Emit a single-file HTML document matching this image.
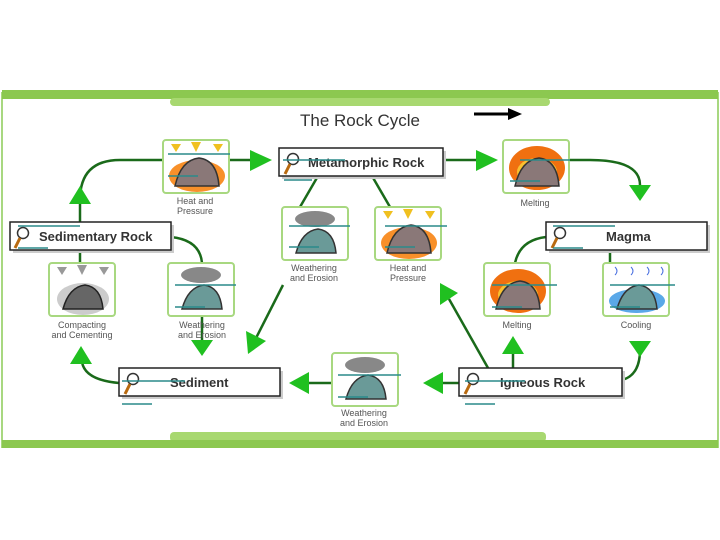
<!DOCTYPE html>
<html><head><meta charset="utf-8"><style>
html,body{margin:0;padding:0;background:#fff;}
svg{display:block;}
text{font-family:"Liberation Sans",sans-serif;}
.lab{font-size:9px;fill:#555;text-anchor:middle;}
.bx{font-size:13px;font-weight:bold;fill:#333;}
</style></head><body>
<svg width="720" height="540" viewBox="0 0 720 540">
<defs>
<g id="mag">
<circle cx="9" cy="-5" r="5.5" fill="#fff" stroke="#333" stroke-width="1.5"/>
<line x1="6" y1="0" x2="1" y2="10" stroke="#b86a10" stroke-width="3"/>
</g>
<g id="tile"><rect x="0" y="0" width="66" height="53" rx="3" fill="#fff" stroke="#a8d880" stroke-width="2"/></g>
<g id="rock"><path d="M12 46 Q18 20 36 18 Q54 20 56 46 Z" fill="#8a7878" stroke="#333" stroke-width="1.5"/></g>
<g id="grock"><path d="M14 46 Q20 24 36 22 Q52 24 54 46 Z" fill="#6a9a98" stroke="#333" stroke-width="1.5"/></g>
<g id="cloud"><ellipse cx="33" cy="12" rx="20" ry="8" fill="#888"/></g>
</defs>
<rect x="2" y="93" width="716" height="354" fill="#fff" stroke="#a8d880" stroke-width="2"/>
<rect x="2" y="90" width="716" height="9" fill="#8cc850"/>
<rect x="170" y="98" width="380" height="8" rx="4" fill="#a8d870"/>
<rect x="170" y="432" width="376" height="10" rx="4" fill="#a8d870"/>
<rect x="2" y="440" width="716" height="8" fill="#8cc850"/>
<text x="300" y="126" font-size="17" fill="#333">The Rock Cycle</text>
<line x1="474" y1="114" x2="510" y2="114" stroke="#000" stroke-width="3"/>
<polygon points="508,108 522,114 508,120" fill="#000"/>

<g stroke="#1a6a1a" stroke-width="2.5" fill="none">
<path d="M80 222 L80 200 Q80 160 120 160 L162 160"/>
<path d="M229 160 L262 160"/>
<path d="M443 160 L476 160"/>
<path d="M570 160 L590 160 Q640 160 640 185"/>
<path d="M610 250 L610 263"/>
<path d="M546 237 Q520 240 515 263"/>
<path d="M171 237 Q200 240 202 263"/>
<path d="M80 263 L80 250"/>
<path d="M318 176 L300 207"/>
<path d="M372 176 L390 207"/>
<path d="M283 285 L255 340"/>
<path d="M488 368 L449 299"/>
<path d="M513 368 L513 352"/>
<path d="M622 380 Q640 375 640 350"/>
<path d="M459 383 L440 383"/>
<path d="M332 383 L305 383"/>
<path d="M119 383 Q85 380 82 362"/>
<path d="M202 316 L202 340"/>
</g>
<g fill="#20c020">
<polygon points="80,186 69,204 91,204"/>
<polygon points="250,150 272,160 250,171"/>
<polygon points="476,150 498,160 476,171"/>
<polygon points="629,185 651,185 640,201"/>
<polygon points="629,341 651,341 640,357"/>
<polygon points="502,354 524,354 513,336"/>
<polygon points="440,283 458,293 440,305"/>
<polygon points="423,383 443,372 443,394"/>
<polygon points="289,383 309,372 309,394"/>
<polygon points="70,364 92,364 81,346"/>
<polygon points="191,340 213,340 202,356"/>
<polygon points="248,354 266,341 246,331"/>
</g>

<g>
<rect x="282" y="151" width="164" height="28" fill="#ccc"/>
<rect x="279" y="148" width="164" height="28" fill="#fff" stroke="#222" stroke-width="1.5"/>
<use href="#mag" x="284" y="164"/>
<text class="bx" x="308" y="167">Metamorphic Rock</text>
<line x1="284" y1="180" x2="312" y2="180" stroke="#2a8a8a" stroke-width="1.5"/>
<line x1="283" y1="160" x2="345" y2="160" stroke="#2a8a8a" stroke-width="1.5"/>

<rect x="13" y="225" width="161" height="28" fill="#ccc"/>
<rect x="10" y="222" width="161" height="28" fill="#fff" stroke="#222" stroke-width="1.5"/>
<use href="#mag" x="14" y="238"/>
<text class="bx" x="39" y="241">Sedimentary Rock</text>
<line x1="18" y1="226" x2="80" y2="226" stroke="#2a8a8a" stroke-width="1.5"/>
<line x1="18" y1="248" x2="48" y2="248" stroke="#2a8a8a" stroke-width="1.5"/>

<rect x="549" y="225" width="161" height="28" fill="#ccc"/>
<rect x="546" y="222" width="161" height="28" fill="#fff" stroke="#222" stroke-width="1.5"/>
<use href="#mag" x="551" y="238"/>
<text class="bx" x="606" y="241">Magma</text>
<line x1="553" y1="226" x2="615" y2="226" stroke="#2a8a8a" stroke-width="1.5"/>
<line x1="553" y1="248" x2="583" y2="248" stroke="#2a8a8a" stroke-width="1.5"/>

<rect x="122" y="371" width="161" height="28" fill="#ccc"/>
<rect x="119" y="368" width="161" height="28" fill="#fff" stroke="#222" stroke-width="1.5"/>
<use href="#mag" x="124" y="384"/>
<text class="bx" x="170" y="387">Sediment</text>
<line x1="122" y1="381" x2="185" y2="381" stroke="#2a8a8a" stroke-width="1.5"/>
<line x1="122" y1="404" x2="152" y2="404" stroke="#2a8a8a" stroke-width="1.5"/>

<rect x="462" y="371" width="163" height="28" fill="#ccc"/>
<rect x="459" y="368" width="163" height="28" fill="#fff" stroke="#222" stroke-width="1.5"/>
<use href="#mag" x="464" y="384"/>
<text class="bx" x="500" y="387">Igneous Rock</text>
<line x1="465" y1="381" x2="525" y2="381" stroke="#2a8a8a" stroke-width="1.5"/>
<line x1="465" y1="404" x2="495" y2="404" stroke="#2a8a8a" stroke-width="1.5"/>
</g>

<g transform="translate(163,140)"><use href="#tile"/><ellipse cx="34" cy="36" rx="28" ry="16" fill="#f8902a"/><use href="#rock"/><polygon points="8,4 18,4 13,12" fill="#f0c020"/><polygon points="28,2 38,2 33,12" fill="#f0c020"/><polygon points="50,4 60,4 55,12" fill="#f0c020"/></g>
<text class="lab" x="195" y="204">Heat and</text><text class="lab" x="195" y="214">Pressure</text>
<g transform="translate(503,140)"><use href="#tile"/><ellipse cx="34" cy="28" rx="28" ry="22" fill="#f07010"/><ellipse cx="34" cy="32" rx="20" ry="14" fill="#f8c030"/><use href="#rock"/></g>
<text class="lab" x="535" y="206">Melting</text>
<g transform="translate(282,207)"><use href="#tile"/><use href="#cloud"/><use href="#grock"/></g>
<text class="lab" x="314" y="271">Weathering</text><text class="lab" x="314" y="281">and Erosion</text>
<g transform="translate(375,207)"><use href="#tile"/><ellipse cx="34" cy="36" rx="28" ry="16" fill="#f8902a"/><use href="#rock"/><polygon points="8,4 18,4 13,12" fill="#f0c020"/><polygon points="28,2 38,2 33,12" fill="#f0c020"/><polygon points="50,4 60,4 55,12" fill="#f0c020"/></g>
<text class="lab" x="408" y="271">Heat and</text><text class="lab" x="408" y="281">Pressure</text>
<g transform="translate(49,263)"><use href="#tile"/><ellipse cx="34" cy="36" rx="26" ry="16" fill="#ccc"/><path d="M14 46 Q20 24 36 22 Q52 24 54 46 Z" fill="#666" stroke="#222" stroke-width="1.5"/><polygon points="8,4 18,4 13,12" fill="#999"/><polygon points="28,2 38,2 33,12" fill="#999"/><polygon points="50,4 60,4 55,12" fill="#999"/></g>
<text class="lab" x="82" y="328">Compacting</text><text class="lab" x="82" y="338">and Cementing</text>
<g transform="translate(168,263)"><use href="#tile"/><use href="#cloud"/><use href="#grock"/></g>
<text class="lab" x="202" y="328">Weathering</text><text class="lab" x="202" y="338">and Erosion</text>
<g transform="translate(484,263)"><use href="#tile"/><ellipse cx="34" cy="28" rx="28" ry="22" fill="#f07010"/><ellipse cx="34" cy="32" rx="20" ry="14" fill="#f8c030"/><use href="#rock"/></g>
<text class="lab" x="517" y="328">Melting</text>
<g transform="translate(603,263)"><use href="#tile"/><ellipse cx="34" cy="38" rx="28" ry="12" fill="#5aa8e8"/><use href="#grock"/><path d="M12 4 q4 4 0 8 M28 4 q4 4 0 8 M44 4 q4 4 0 8 M58 4 q4 4 0 8" stroke="#4a70e0" fill="none"/></g>
<text class="lab" x="636" y="328">Cooling</text>
<g transform="translate(332,353)"><use href="#tile"/><use href="#cloud"/><use href="#grock"/></g>
<text class="lab" x="364" y="416">Weathering</text><text class="lab" x="364" y="426">and Erosion</text>

<g stroke="#2a8a8a" stroke-width="1.5">
<line x1="168" y1="154" x2="230" y2="154"/><line x1="168" y1="176" x2="198" y2="176"/>
<line x1="520" y1="160" x2="570" y2="160"/><line x1="510" y1="181" x2="540" y2="181"/>
<line x1="289" y1="226" x2="350" y2="226"/><line x1="289" y1="247" x2="319" y2="247"/>
<line x1="385" y1="226" x2="447" y2="226"/><line x1="385" y1="247" x2="415" y2="247"/>
<line x1="175" y1="285" x2="236" y2="285"/><line x1="175" y1="307" x2="205" y2="307"/>
<line x1="492" y1="285" x2="557" y2="285"/><line x1="492" y1="307" x2="522" y2="307"/>
<line x1="610" y1="285" x2="675" y2="285"/><line x1="610" y1="307" x2="640" y2="307"/>
<line x1="338" y1="375" x2="401" y2="375"/><line x1="338" y1="397" x2="368" y2="397"/>
</g>
</svg>
</body></html>
